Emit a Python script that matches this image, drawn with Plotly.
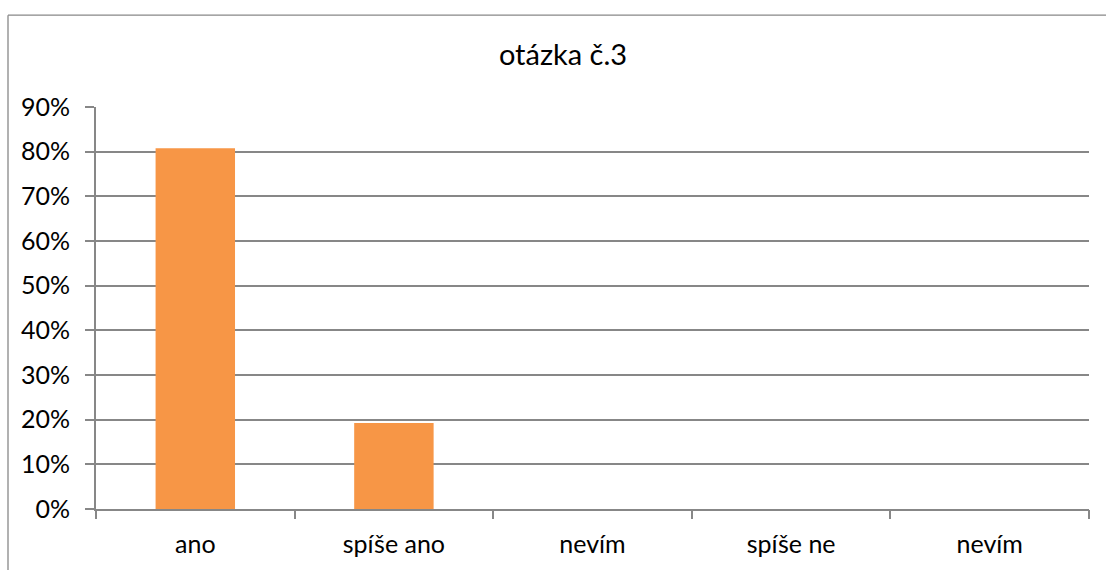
import plotly.graph_objects as go

# Survey answers for question 3
categories = ["ano", "spíše ano", "nevím", "spíše ne", "nevím"]
shares = [21 / 26, 5 / 26, 0, 0, 0]

y_ticks = [0, 0.1, 0.2, 0.3, 0.4, 0.5, 0.6, 0.7, 0.8, 0.9]

GRAY = "#878787"
FONT = "Lato"

W, H = 1106, 570
L, R, T, B = 96, 17, 107, 58
pw, ph = W - L - R, H - T - B

positions = list(range(len(categories)))
bounds = [i - 0.5 for i in range(len(categories) + 1)]

fig = go.Figure()
fig.add_trace(go.Bar(
    x=positions, y=shares,
    marker=dict(color="#F79646", line=dict(width=0)),
    width=0.4, hoverinfo="skip", showlegend=False,
))
# invisible trace carrying the boundary tick axis
fig.add_trace(go.Scatter(
    x=[bounds[0], bounds[-1]], y=[0, 0], xaxis="x2", mode="none",
    hoverinfo="skip", showlegend=False,
))

fig.update_layout(
    width=W, height=H,
    margin=dict(l=L, r=R, t=T, b=B, pad=0),
    paper_bgcolor="white", plot_bgcolor="white",
    font=dict(family=FONT, size=25, color="#000000"),
    title=dict(
        text="otázka č.3", font=dict(family=FONT, size=29, color="#000000"),
        x=563 / W, xref="container", xanchor="center",
        y=1 - 55 / H, yref="container", yanchor="middle",
    ),
    xaxis=dict(
        range=[bounds[0], bounds[-1]],
        tickmode="array", tickvals=positions, ticktext=categories,
        ticks="", showgrid=False, zeroline=False,
        showline=True, linecolor=GRAY, linewidth=2,
        ticklabelstandoff=12, fixedrange=True,
    ),
    xaxis2=dict(
        overlaying="x", anchor="y", side="bottom",
        range=[bounds[0], bounds[-1]],
        tickmode="array", tickvals=bounds, showticklabels=False,
        ticks="outside", ticklen=9, tickwidth=2, tickcolor=GRAY,
        showgrid=False, zeroline=False, showline=False, fixedrange=True,
    ),
    yaxis=dict(
        range=[0, 0.9], tickmode="array", tickvals=y_ticks,
        tickformat=".0%",
        ticks="outside", ticklen=9, tickwidth=2, tickcolor=GRAY,
        showgrid=True, gridcolor=GRAY, gridwidth=2,
        showline=True, linecolor=GRAY, linewidth=2,
        zeroline=False, ticklabelstandoff=10, fixedrange=True,
    ),
    bargap=0.6,
    shapes=[
        # chart area border (top and left edges)
        dict(type="line", xref="paper", yref="paper",
             x0=(8 - L) / pw, x1=(W + 5 - L) / pw,
             y0=(H - B - 14.5) / ph, y1=(H - B - 14.5) / ph,
             line=dict(color=GRAY, width=1.3)),
        dict(type="line", xref="paper", yref="paper",
             x0=(8 - L) / pw, x1=(8 - L) / pw,
             y0=(H - B - 14.5) / ph, y1=-(B + 5) / ph,
             line=dict(color=GRAY, width=1.3)),
    ],
)

fig.write_html("out.html", config={"displayModeBar": False})
